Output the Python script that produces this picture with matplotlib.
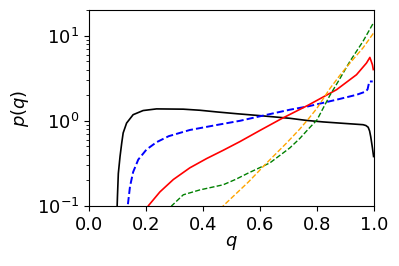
import numpy as np
import matplotlib

matplotlib.use("Agg")
import matplotlib.pyplot as plt

# ── Data (q, p(q)) ───────────────────────────────────────────────────────────

q_black = [0.096, 0.100, 0.103, 0.109, 0.115, 0.120, 0.132, 0.155, 0.190, 0.237,
           0.331, 0.390, 0.450, 0.520, 0.60, 0.705, 0.764, 0.822, 0.90, 0.962,
           0.972, 0.980, 0.985, 0.989, 0.995, 0.999]
p_black = [0.05, 0.13, 0.24, 0.38, 0.55, 0.72, 0.94, 1.18, 1.32, 1.38,
           1.37, 1.33, 1.27, 1.21, 1.15, 1.07, 1.01, 0.97, 0.93, 0.90,
           0.88, 0.84, 0.76, 0.65, 0.48, 0.38]

q_blue = [0.132, 0.136, 0.144, 0.155, 0.173, 0.202, 0.237, 0.280, 0.354, 0.454,
          0.53, 0.60, 0.705, 0.77, 0.869, 0.939, 0.972, 0.978, 0.984, 0.996]
p_blue = [0.06, 0.10, 0.169, 0.25, 0.35, 0.46, 0.56, 0.66, 0.78, 0.90,
          1.00, 1.13, 1.35, 1.48, 1.77, 2.02, 2.21, 2.35, 2.9, 2.9]

q_red = [0.204, 0.208, 0.249, 0.296, 0.354, 0.413, 0.471, 0.53, 0.60, 0.676,
         0.77, 0.869, 0.939, 0.974, 0.986, 0.995, 0.998]
p_red = [0.08, 0.10, 0.146, 0.204, 0.28, 0.36, 0.45, 0.57, 0.77, 1.06,
         1.53, 2.32, 3.48, 4.77, 5.56, 4.56, 4.0]

q_green = [0.286, 0.29, 0.331, 0.389, 0.471, 0.515, 0.559, 0.635, 0.705,
           0.74, 0.773, 0.80, 0.846, 0.88, 0.916, 0.962, 0.995, 1.0]
p_green = [0.08, 0.10, 0.135, 0.154, 0.177, 0.205, 0.243, 0.32, 0.48,
           0.62, 0.82, 1.02, 2.0, 3.1, 5.0, 8.6, 13.5, 14.5]

q_orange = [0.466, 0.471, 0.559, 0.624, 0.694, 0.74, 0.77, 0.80, 0.846, 0.88,
            0.916, 0.962, 0.995, 1.0]
p_orange = [0.09, 0.10, 0.19, 0.32, 0.55, 0.80, 1.05, 1.40, 2.40, 3.40,
            4.77, 7.2, 10.3, 11.0]


fig = plt.figure(figsize=(3.99, 2.66), dpi=100)
ax = fig.add_axes([0.223, 0.226, 0.714, 0.736])

ax.plot(q_black, p_black, color="black", ls="-", lw=1.2)
ax.plot(q_blue, p_blue, color="blue", ls="--", lw=1.4)
ax.plot(q_red, p_red, color="red", ls="-", lw=1.2)
ax.plot(q_green, p_green, color="green", ls="--", lw=1.0)
ax.plot(q_orange, p_orange, color="orange", ls="--", lw=1.0)

ax.set_yscale("log")
ax.set_xlim(0.0, 1.0)
ax.set_ylim(0.1, 20)
ax.set_xticks([0.0, 0.2, 0.4, 0.6, 0.8, 1.0])
ax.tick_params(axis="both", labelsize=13)
ax.set_xlabel(r"$q$", fontsize=13, labelpad=0)
ax.set_ylabel(r"$p(q)$", fontsize=13)

fig.savefig("out.png", dpi=100)
